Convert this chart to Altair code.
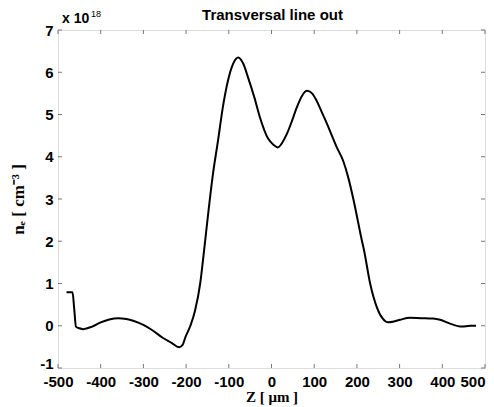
import altair as alt
import pandas as pd

z_um = [-480, -466, -462, -458, -450, -441, -420, -400, -380, -359, -340, -324, -300, -280,
        -254, -235, -216, -208, -202, -190, -179, -167, -158, -150, -137, -125, -114, -102,
        -90, -78, -66, -55, -40, -27, -8, 5, 15, 25, 36, 48, 59, 72, 83, 95, 106, 118, 130,
        153, 168, 180, 191, 212, 217, 231, 247, 261, 273, 287, 301, 324, 350, 378, 395, 418,
        446, 465, 479]
ne_1e18 = [0.79, 0.79, 0.4, -0.02, -0.06, -0.08, -0.02, 0.08, 0.15, 0.18, 0.16, 0.12, 0.02,
           -0.1, -0.29, -0.4, -0.51, -0.45, -0.28, 0.0, 0.36, 1.0, 1.77, 2.5, 3.6, 4.4, 5.17,
           5.8, 6.2, 6.35, 6.2, 5.88, 5.4, 4.93, 4.43, 4.28, 4.22, 4.33, 4.54, 4.85, 5.16, 5.45,
           5.56, 5.5, 5.32, 5.05, 4.78, 4.22, 3.9, 3.5, 3.03, 2.0, 1.77, 1.0, 0.43, 0.16, 0.08,
           0.1, 0.14, 0.19, 0.18, 0.17, 0.14, 0.05, -0.02, 0.0, 0.0]
x_ticks = [-500, -400, -300, -200, -100, 0, 100, 200, 300, 400, 500]
y_ticks = [-1, 0, 1, 2, 3, 4, 5, 6, 7]
title_text = "Transversal line out"

W, H = 427, 338
df = pd.DataFrame({"z": z_um, "ne": ne_1e18})
xt = pd.DataFrame({"v": x_ticks})
yt = pd.DataFrame({"v": y_ticks})

xscale = alt.Scale(domain=[-500, 500], nice=False)
yscale = alt.Scale(domain=[-1, 7], nice=False)

line = alt.Chart(df).mark_line(color="black", strokeWidth=2, interpolate="monotone").encode(
    x=alt.X("z:Q", scale=xscale,
            axis=alt.Axis(values=x_ticks, title="Z [ μm ]", titleFont="Liberation Serif",
                          titleFontSize=15, titleFontWeight="bold", titleColor="black",
                          titlePadding=0, labelFont="Liberation Sans", labelFontSize=15,
                          labelFontWeight="bold", labelColor="black", tickSize=0,
                          labelPadding=6, domain=False, grid=False, labelFlush=False,
                          labelAlign=alt.condition("datum.value == 500", alt.value("right"),
                                                   alt.value("center")),
                          labelExpr="datum.value + ''")),
    y=alt.Y("ne:Q", scale=yscale,
            axis=alt.Axis(values=y_ticks, title="nₑ [ cm⁻³ ]", titleFont="Liberation Serif",
                          titleFontSize=17, titleFontWeight="bold", titleColor="black",
                          titlePadding=12, labelFont="Liberation Sans", labelFontSize=15,
                          labelFontWeight="bold", labelColor="black", tickSize=0,
                          labelPadding=5, domain=False, grid=False,
                          labelBaseline=alt.condition("datum.value == -1",
                                                      alt.value("alphabetic"),
                                                      alt.value("middle")),
                          labelExpr="datum.value + ''")),
)

tick_col = "#777777"
xb = alt.Chart(xt).mark_rule(color=tick_col, strokeWidth=1).encode(
    x=alt.X("v:Q", scale=xscale), y=alt.value(H), y2=alt.value(H - 4))
xtop = alt.Chart(xt).mark_rule(color=tick_col, strokeWidth=1).encode(
    x=alt.X("v:Q", scale=xscale), y=alt.value(0), y2=alt.value(4))
yl = alt.Chart(yt).mark_rule(color=tick_col, strokeWidth=1).encode(
    y=alt.Y("v:Q", scale=yscale), x=alt.value(0), x2=alt.value(4))
yr = alt.Chart(yt).mark_rule(color=tick_col, strokeWidth=1).encode(
    y=alt.Y("v:Q", scale=yscale), x=alt.value(W), x2=alt.value(W - 4))

exp_main = alt.Chart(pd.DataFrame({"t": ["x 10"]})).mark_text(
    font="Liberation Sans", fontSize=14, fontWeight="bold", align="left", baseline="alphabetic",
    color="black").encode(text="t:N", x=alt.value(4), y=alt.value(-7))
exp_sup = alt.Chart(pd.DataFrame({"t": ["18"]})).mark_text(
    font="Liberation Sans", fontSize=9, align="left", baseline="alphabetic",
    color="black").encode(text="t:N", x=alt.value(33), y=alt.value(-13))
title = alt.Chart(pd.DataFrame({"t": [title_text]})).mark_text(
    font="Liberation Sans", fontSize=15, fontWeight="bold", align="center",
    baseline="alphabetic", color="black").encode(
    text="t:N", x=alt.value(W / 2 + 1), y=alt.value(-10))

chart = alt.layer(xb, xtop, yl, yr, line, exp_main, exp_sup, title).properties(
    width=W, height=H,
    padding={"left": 58, "top": 30, "right": 9, "bottom": 39},
    autosize="none",
).configure_view(stroke="#808080", strokeWidth=1).configure(background="white")

chart.save("out.html", embed_options={"renderer": "svg", "actions": False})
